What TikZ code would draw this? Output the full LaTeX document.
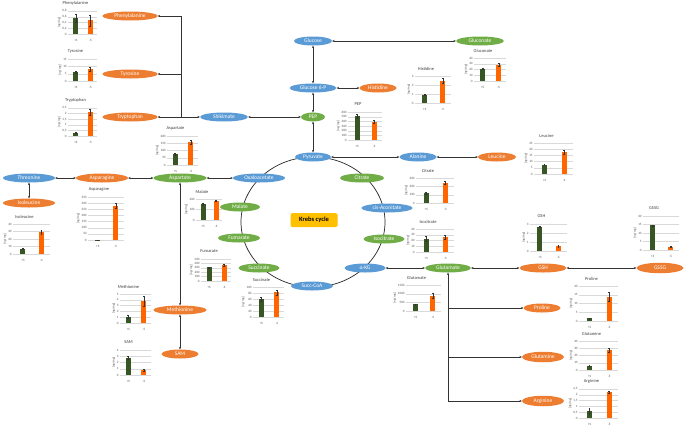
\documentclass[tikz,border=0pt]{standalone}
\usepackage{fontspec}
\setmainfont{Carlito}
\usepackage{tikz}
\usetikzlibrary{shapes.geometric,arrows.meta}

\definecolor{metblue}{HTML}{5B9BD5}
\definecolor{metorange}{HTML}{ED7D31}
\definecolor{metgreen}{HTML}{70AD47}
\definecolor{bargreen}{HTML}{375623}
\definecolor{barorange}{HTML}{FF6600}
\definecolor{krebsfill}{HTML}{FFC000}
\definecolor{axisgray}{HTML}{595959}

\pgfkeys{/pgf/number format/.cd, use comma, 1000 sep={}, assume math mode=true}

\tikzset{
  met/.style={ellipse, inner sep=0pt, minimum height=9, text=white,
    font=\fontsize{5.5}{6}\selectfont},
  bluemet/.style={met, fill=metblue},
  orangemet/.style={met, fill=metorange},
  greenmet/.style={met, fill=metgreen},
  krebs/.style={rectangle, rounded corners=1.5pt, fill=krebsfill, minimum width=47,
    minimum height=14, font=\fontsize{6.5}{7}\selectfont\bfseries},
  conn/.style={draw=black!80, line width=0.6pt, >={Stealth[length=2.4pt,width=2.2pt]}},
  gridline/.style={draw=black!15, line width=0.3pt},
  ticklabel/.style={inner sep=0.4pt, text=axisgray, font=\fontsize{3.3}{3.5}\selectfont},
  ylabel/.style={inner sep=1pt, text=axisgray, font=\fontsize{3.3}{3.5}\selectfont},
  charttitle/.style={inner sep=0pt, text=black!75, font=\fontsize{4.5}{5}\selectfont},
  errbar/.style={draw=black!80, line width=0.25pt, {Bar[width=1.8pt]}-{Bar[width=1.8pt]}}
}

% #1 grid left / zero line, #2 width, #3 height, #4 max, #5 step,
% #6 title, #7 +S value/error, #8 -S value/error
\newcommand{\minichart}[8]{%
  \begin{scope}[shift={(#1)}]
    \pgfmathtruncatemacro{\nticks}{round(#4/#5)}
    \foreach \i in {0,...,\nticks} {
      \pgfmathsetmacro{\tv}{\i*#5}
      \draw[gridline] (0,{-\i*#3/\nticks}) -- (#2,{-\i*#3/\nticks});
      \node[ticklabel, anchor=east] (tl) at (-0.8,{-\i*#3/\nticks}) {\pgfmathprintnumber{\tv}};
    }
    \coordinate (ymid) at (0,{-#3/2});
    \node[ylabel, rotate=90, anchor=south] at (tl.west |- ymid) {[ng/mg]};
    \node[charttitle] at ({#2/2-7},{-#3-7.5}) {#6};
    \foreach \val/\err in {#7} {
      \fill[bargreen] ({0.27*#2-2.5},0) rectangle ({0.27*#2+2.5},{-(\val/#4)*#3});
      \draw[errbar] ({0.27*#2},{-((\val-\err)/#4)*#3}) -- ({0.27*#2},{-((\val+\err)/#4)*#3});
    }
    \foreach \val/\err in {#8} {
      \fill[barorange] ({0.77*#2-2.5},0) rectangle ({0.77*#2+2.5},{-(\val/#4)*#3});
      \draw[errbar] ({0.77*#2},{-((\val-\err)/#4)*#3}) -- ({0.77*#2},{-((\val+\err)/#4)*#3});
    }
    \node[ticklabel] at ({0.27*#2},6) {+S};
    \node[ticklabel] at ({0.77*#2},6) {-S};
  \end{scope}}

\begin{document}
\begin{tikzpicture}[x=1pt, y=-1pt]
    \fill[white] (0,0) rectangle (685,426);
    \useasboundingbox (0,0) rectangle (685,426);

    % Krebs cycle ring
    \draw[black!85, line width=0.7pt] (313,222) ellipse [x radius=72, y radius=65];

    % Nodes
    \node[bluemet, minimum width=38] (glucose) at (313,41) {Glucose};
    \node[greenmet, minimum width=48] (gluconate) at (480,41) {Gluconate};
    \node[bluemet, minimum width=47] (g6p) at (313,88) {Glucose 6-P};
    \node[orangemet, minimum width=37] (histidine) at (378,88) {Histidine};
    \node[greenmet, minimum width=24] (pep) at (313,117) {PEP};
    \node[bluemet, minimum width=48] (shikimate) at (224,117) {Shikimate};
    \node[orangemet, minimum width=55] (phe) at (130,16) {Phenylalanine};
    \node[orangemet, minimum width=55] (tyr) at (130,74) {Tyrosine};
    \node[orangemet, minimum width=55] (trp) at (130,117) {Tryptophan};
    \node[bluemet, minimum width=36] (pyruvate) at (313,157) {Pyruvate};
    \node[bluemet, minimum width=37] (alanine) at (418,157) {Alanine};
    \node[orangemet, minimum width=38] (leucine) at (497,157) {Leucine};
    \node[greenmet, minimum width=44] (citrate) at (362,178) {Citrate};
    \node[bluemet, minimum width=51] (cisaco) at (387,208) {cis-Aconitate};
    \node[greenmet, minimum width=41] (isocitrate) at (384,239) {Isocitrate};
    \node[bluemet, minimum width=41] (akg) at (365,268) {α-KG};
    \node[bluemet, minimum width=42] (succoa) at (312,286) {Succ-CoA};
    \node[greenmet, minimum width=41] (succinate) at (259,268) {Succinate};
    \node[greenmet, minimum width=42] (fumarate) at (239,238) {Fumarate};
    \node[greenmet, minimum width=40] (malate) at (240,207) {Malate};
    \node[bluemet, minimum width=52] (oxalo) at (259,178) {Oxaloacetate};
    \node[greenmet, minimum width=53] (aspartate) at (180,178) {Aspartate};
    \node[orangemet, minimum width=52] (asparagine) at (102,178) {Asparagine};
    \node[bluemet, minimum width=52] (threonine) at (29,178) {Threonine};
    \node[orangemet, minimum width=52] (isoleucine) at (29,203) {Isoleucine};
    \node[orangemet, minimum width=53] (methionine) at (180,310) {Methionine};
    \node[orangemet, minimum width=37] (sam) at (180,354) {SAM};
    \node[greenmet, minimum width=46] (glutamate) at (448,268) {Glutamate};
    \node[orangemet, minimum width=47] (gsh) at (543,268) {GSH};
    \node[orangemet, minimum width=47, minimum height=10.5] (gssg) at (660,268) {GSSG};
    \node[orangemet, minimum width=37] (proline) at (542,308) {Proline};
    \node[orangemet, minimum width=42, minimum height=10.5] (glutamine) at (543,357) {Glutamine};
    \node[orangemet, minimum width=42, minimum height=10.5] (arginine) at (543,401) {Arginine};
    \node[krebs] (krebs) at (314,220) {Krebs cycle};

    % Arrows
    \draw[conn, <->] (glucose) -- (gluconate);
    \draw[conn, <->] (glucose) -- (g6p);
    \draw[conn, <->] (g6p) -- (histidine);
    \draw[conn, <->] (g6p) -- (pep);
    \draw[conn, <->] (pep) -- (shikimate);
    \draw[conn, <->] (shikimate) -- (trp);
    \coordinate (branch) at (181,117);
    \draw[conn, ->] (branch) |- (tyr);
    \draw[conn, ->] (branch) |- (phe);
    \draw[conn, <->] (pep) -- (pyruvate);
    \draw[conn, <->] (pyruvate) -- (alanine);
    \draw[conn, <->] (alanine) -- (leucine);
    \draw[conn, <->] (oxalo) -- (aspartate);
    \draw[conn, <->] (aspartate) -- (asparagine);
    \draw[conn, <->] (asparagine) -- (threonine);
    \draw[conn, <->] (threonine) -- (isoleucine);
    \draw[conn, <->] (aspartate) -- (methionine);
    \draw[conn, <->] (methionine) -- (sam);
    \draw[conn, <->] (akg) -- (glutamate);
    \draw[conn, <->] (glutamate) -- (gsh);
    \draw[conn, <->] (gsh) -- (gssg);
    \draw[conn, <->] (glutamate) |- (arginine);
    \draw[conn, ->] (glutamate |- proline) -- (proline);
    \draw[conn, ->] (glutamate |- glutamine) -- (glutamine);

    % Charts
    \minichart{68,34}{29}{23}{0.8}{0.2}{Phenylalanine}{0.55/0.15}{0.47/0.2}
    \minichart{68,81}{29}{22}{15}{5}{Tyrosine}{6/0.8}{8.3/1.5}
    \minichart{68,136}{29}{28}{2.5}{0.5}{Tryptophan}{0.3/0.05}{2.1/0.28}
    \minichart{167,165}{31}{29}{200}{50}{Aspartate}{75/5}{160/14}
    \minichart{88,240}{36}{43}{350}{50}{Asparagine}{3/1}{280/20}
    \minichart{13,254}{37}{30}{40}{10}{Isoleucine}{7/1}{29/3}
    \minichart{196,220}{26}{21}{200}{100}{Malate}{150/8}{180/6}
    \minichart{201,281}{30}{22}{500}{100}{Fumarate}{310/15}{360/20}
    \minichart{253,317}{31}{30}{100}{20}{Succinate}{60/8}{82/8}
    \minichart{406,311}{35}{26}{1500}{500}{Glutamate}{380/40}{870/150}
    \minichart{416,203}{38}{25}{300}{100}{Citrate}{120/15}{240/20}
    \minichart{416,252}{38}{23}{40}{10}{Isocitrate}{23/4}{26/4}
    \minichart{415,103}{36}{27}{3}{1}{Histidine}{0.9/0.05}{2.5/0.3}
    \minichart{474,81}{32}{23}{40}{10}{Gluconate}{21/1}{28/2.5}
    \minichart{348,140}{34}{28}{600}{100}{PEP}{510/40}{390/35}
    \minichart{534,174}{39}{31}{25}{5}{Leucine}{7.5/0.7}{17.5/1.5}
    \minichart{530,251}{37}{27}{3}{1}{GSH}{2.7/0.1}{0.55/0.1}
    \minichart{643,250}{36}{34}{20}{5}{GSSG}{14.5/0.4}{2/0.3}
    \minichart{579,321}{39}{35}{20}{5}{Proline}{1.5/0.5}{14/2.7}
    \minichart{579,370}{39}{29}{40}{10}{Glutamine}{6/1.5}{27/3}
    \minichart{579,418}{39}{29}{2.5}{0.5}{Arginine}{0.6/0.25}{2.2/0.1}
    \minichart{120,323}{31}{29}{5}{1}{Methionine}{1.1/0.2}{3.8/0.9}
    \minichart{120,375}{31}{25}{4}{1}{SAM}{2.8/0.3}{0.8/0.2}
\end{tikzpicture}
\end{document}
